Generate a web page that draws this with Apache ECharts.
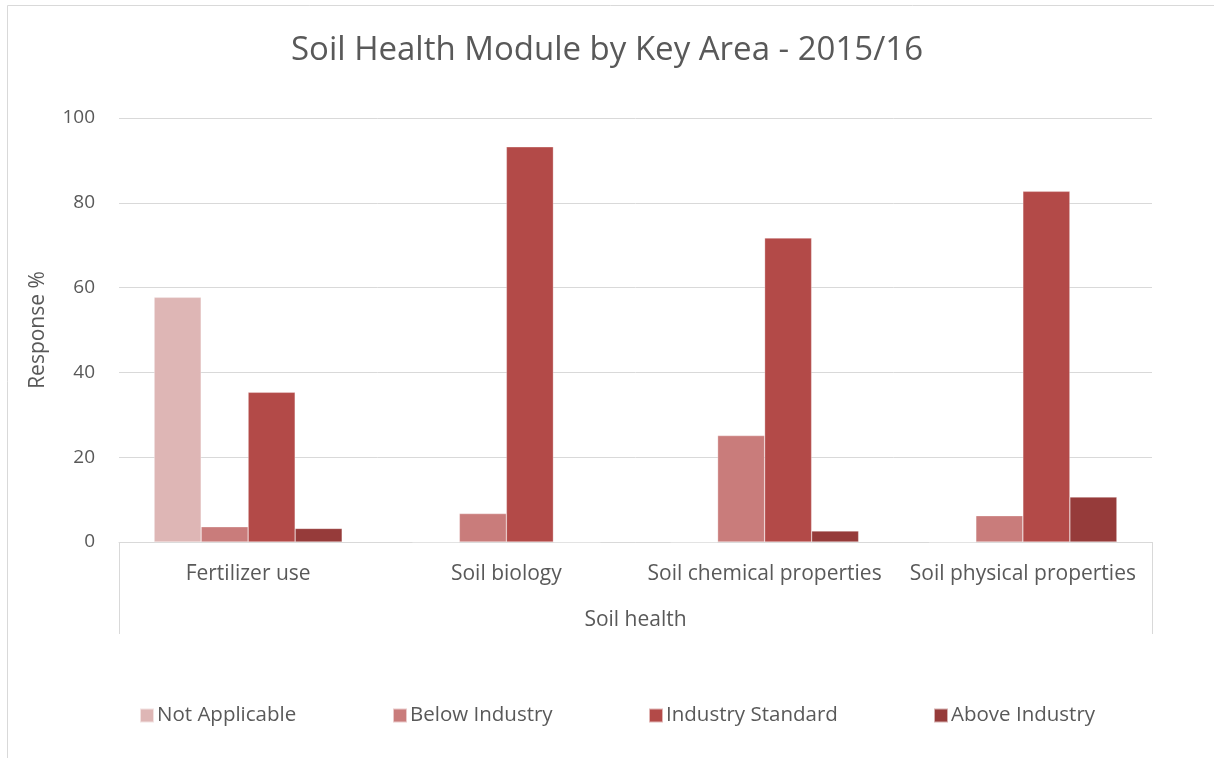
<!DOCTYPE html>
<html>
<head>
<meta charset="utf-8">
<script src="https://cdn.jsdelivr.net/npm/echarts@6/dist/echarts.min.js"></script>
<style>
  html, body { margin: 0; padding: 0; background: #fff; }
  #main { width: 1214px; height: 758px; }
</style>
</head>
<body>
<div id="main"></div>
<script>
// data
var categories = ['Fertilizer use', 'Soil biology', 'Soil chemical properties', 'Soil physical properties'];
var seriesNames = ['Not Applicable', 'Below Industry', 'Industry Standard', 'Above Industry'];
var notApplicable = [57.7, 0, 0, 0];
var belowIndustry = [3.6, 6.7, 25.1, 6.2];
var industryStandard = [35.3, 93.2, 71.7, 82.7];
var aboveIndustry = [3.2, 0, 2.6, 10.6];
var yTicks = [0, 20, 40, 60, 80, 100];

var font = 'Open Sans';
var txt = '#595959';
var line = '#d9d9d9';

var myChart = echarts.init(document.getElementById('main'));

// one legend per item so each sits where it does in the reference
var legendLeft = [134, 387, 643, 928];
var legends = [];
for (var i = 0; i < seriesNames.length; i++) {
    legends.push({
        data: [seriesNames[i]],
        left: legendLeft[i],
        top: 700,
        itemWidth: 14,
        itemHeight: 14,
        itemGap: 5,
        icon: 'rect',
        textStyle: { color: txt, fontSize: 20.5, fontFamily: font, padding: [0, 0, 0, -2] }
    });
}

function bar(name, data) {
    return {
        name: name,
        type: 'bar',
        data: data,
        barWidth: 47,
        barGap: '0%',
        itemStyle: { borderColor: 'rgba(255,255,255,0.6)', borderWidth: 0.5 }
    };
}

var option = {
    animation: false,
    color: ['#deb6b5', '#c97c7b', '#b34a48', '#963b3a'],
    title: {
        text: 'Soil Health Module by Key Area - 2015/16',
        left: 'center',
        top: 29,
        textStyle: { color: txt, fontSize: 33, fontWeight: 'normal', fontFamily: font }
    },
    legend: legends,
    grid: { left: 119, right: 62, top: 118, bottom: 216 },
    xAxis: {
        type: 'category',
        data: categories,
        name: 'Soil health',
        nameLocation: 'middle',
        nameGap: 68,
        nameTextStyle: { color: txt, fontSize: 21, fontFamily: font },
        axisLine: { lineStyle: { color: line, width: 1 } },
        axisTick: { show: false },
        axisLabel: { color: txt, fontSize: 21, fontFamily: font, margin: 22, interval: 0 }
    },
    yAxis: {
        type: 'value',
        min: yTicks[0],
        max: yTicks[yTicks.length - 1],
        interval: 20,
        name: 'Response %',
        nameLocation: 'middle',
        nameGap: 70,
        nameTextStyle: { color: txt, fontSize: 21, fontFamily: font },
        axisLine: { show: false },
        axisTick: { show: false },
        axisLabel: { color: txt, fontSize: 19, fontFamily: font, margin: 24 },
        splitLine: { lineStyle: { color: line, width: 1 } }
    },
    // chart frame and the outer edges of the category box
    graphic: [
        { type: 'line', shape: { x1: 7.5, y1: 5.5, x2: 1214, y2: 5.5 }, style: { stroke: line, lineWidth: 1 } },
        { type: 'line', shape: { x1: 7.5, y1: 5.5, x2: 7.5, y2: 758 }, style: { stroke: line, lineWidth: 1 } },
        { type: 'line', shape: { x1: 119.5, y1: 542, x2: 119.5, y2: 634 }, style: { stroke: line, lineWidth: 1 } },
        { type: 'line', shape: { x1: 1152.5, y1: 542, x2: 1152.5, y2: 634 }, style: { stroke: line, lineWidth: 1 } }
    ],
    series: [
        bar(seriesNames[0], notApplicable),
        bar(seriesNames[1], belowIndustry),
        bar(seriesNames[2], industryStandard),
        bar(seriesNames[3], aboveIndustry)
    ]
};

myChart.setOption(option);
</script>
</body>
</html>
